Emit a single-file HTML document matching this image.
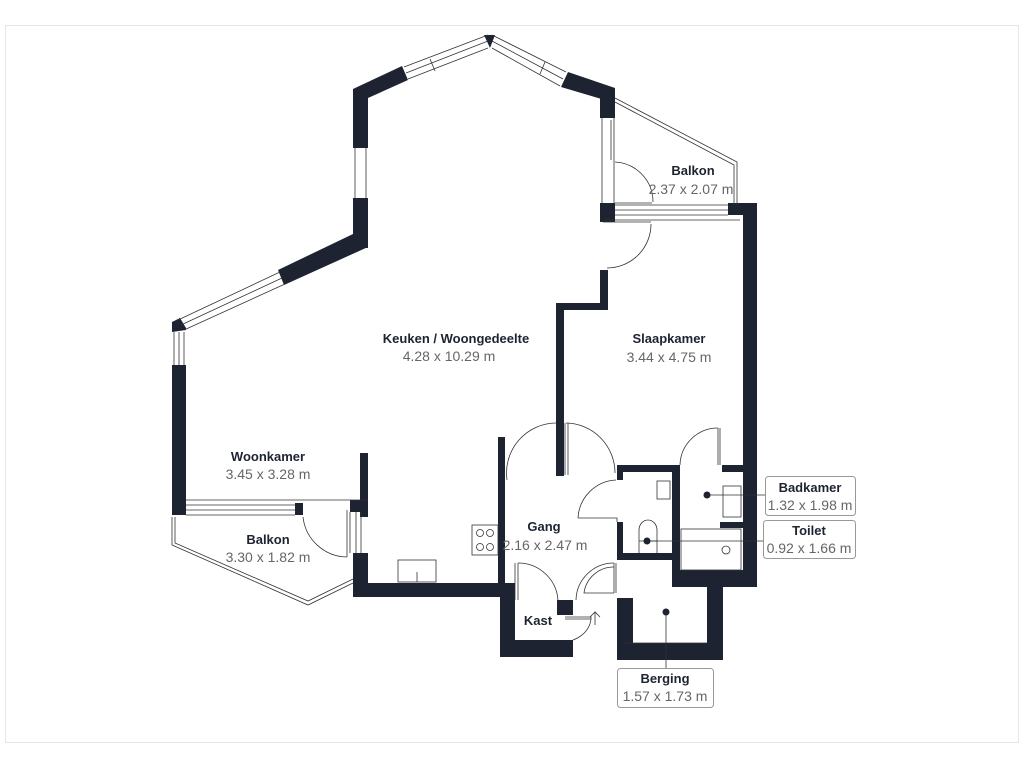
<!DOCTYPE html>
<html><head><meta charset="utf-8"><style>
html,body{margin:0;padding:0;background:#fff;}
svg{display:block;}
text{font-family:"Liberation Sans",sans-serif;font-size:13px;}
.b{font-weight:bold;fill:#1d2330;}
.d{fill:#666;font-size:14px;}
</style></head><body>
<svg width="1024" height="768" viewBox="0 0 1024 768" xmlns="http://www.w3.org/2000/svg">
<rect x="5.5" y="25.5" width="1013" height="717" fill="none" stroke="#e6e6e6"/>
<g fill="#1d2330">
<rect x="172" y="365" width="14" height="150"/>
<polygon points="172,322 180,318 186,328 186,330 172,332"/>
<polygon points="278,270 353,234 368,247 284,285"/>
<rect x="353" y="89" width="15" height="59"/>
<rect x="353" y="198" width="15" height="50"/>
<polygon points="353,89 402,66 408,80 368,98"/>
<polygon points="484,35 495,35 490,48"/>
<polygon points="568,72 615,88 615,103 561,87"/>
<rect x="600" y="88" width="15" height="30"/>
<rect x="600" y="203" width="15" height="19"/>
<rect x="728" y="203" width="29" height="12"/>
<rect x="743" y="203" width="14" height="384"/>
<rect x="600" y="270" width="8" height="40"/>
<rect x="556" y="303" width="52" height="7"/>
<rect x="556" y="303" width="8" height="173"/>
<rect x="498" y="437" width="7" height="160"/>
<rect x="360" y="453" width="8" height="64"/>
<rect x="353" y="553" width="15" height="44"/>
<rect x="353" y="583" width="152" height="14"/>
<rect x="500" y="583" width="15" height="74"/>
<rect x="500" y="640" width="73" height="17"/>
<rect x="557" y="600" width="16" height="15"/>
<rect x="617" y="465" width="63" height="7"/>
<rect x="617" y="465" width="6" height="15"/>
<rect x="617" y="522" width="6" height="38"/>
<rect x="617" y="553" width="63" height="7"/>
<rect x="672" y="465" width="8" height="112"/>
<rect x="672" y="570" width="85" height="17"/>
<rect x="722" y="465" width="21" height="7"/>
<rect x="720" y="522" width="23" height="6"/>
<rect x="617" y="598" width="16" height="62"/>
<rect x="617" y="643" width="106" height="17"/>
<rect x="707" y="577" width="16" height="83"/>
<rect x="295" y="503" width="8" height="12"/>
<rect x="350" y="500" width="18" height="12"/>
</g>
<g fill="none" stroke="#333" stroke-width="0.8">
<line x1="174" y1="332" x2="174" y2="365"/><line x1="184" y1="332" x2="184" y2="365"/><line x1="179" y1="332" x2="179" y2="365"/>
<line x1="178" y1="320" x2="280" y2="272"/><line x1="184" y1="330" x2="285" y2="284"/><line x1="181" y1="325" x2="282" y2="278"/>
<line x1="355" y1="148" x2="355" y2="198"/><line x1="366" y1="148" x2="366" y2="198"/>
<line x1="404" y1="67" x2="488" y2="35"/><line x1="408" y1="79" x2="488" y2="48"/><line x1="406" y1="73" x2="488" y2="41"/>
<line x1="492" y1="35" x2="566" y2="72"/><line x1="492" y1="48" x2="560" y2="86"/><line x1="492" y1="41" x2="563" y2="79"/>
<line x1="430" y1="59" x2="435" y2="71"/><line x1="545" y1="62" x2="540" y2="74"/>
<line x1="602" y1="118" x2="602" y2="203"/><line x1="614" y1="118" x2="614" y2="203"/>
<line x1="611" y1="120" x2="611" y2="160"/>
<polyline points="615,98 737,162 737,205"/><polyline points="615,102 734,165 734,205"/>
<line x1="615" y1="205" x2="728" y2="205"/><line x1="615" y1="210" x2="728" y2="210"/><line x1="615" y1="215" x2="728" y2="215"/>
<line x1="605" y1="220" x2="740" y2="220"/>
<line x1="615" y1="203" x2="652" y2="203"/>
<path d="M615,162 A40,40 0 0 1 653,202"/>
<line x1="603" y1="222" x2="651" y2="222"/>
<path d="M651,224 A44,44 0 0 1 607,268"/>
<line x1="186" y1="500" x2="368" y2="500"/>
<line x1="186" y1="505" x2="295" y2="505"/><line x1="186" y1="510" x2="295" y2="510"/><line x1="186" y1="515" x2="295" y2="515"/>
<polyline points="172,517 172,545 308,605 353,583"/><polyline points="175,517 175,543 308,601 353,579"/>
<line x1="350" y1="512" x2="350" y2="553"/><line x1="356" y1="512" x2="356" y2="553"/><line x1="361" y1="512" x2="361" y2="553"/>
<line x1="347" y1="510" x2="347" y2="557"/>
<path d="M303,517 A45,45 0 0 0 347,557"/>
<rect x="398" y="560" width="38" height="22"/>
<line x1="417" y1="572" x2="417" y2="582"/>
<rect x="472" y="525" width="26" height="30"/>
<circle cx="480" cy="533" r="3.5"/><circle cx="490" cy="533" r="3.5"/>
<circle cx="480" cy="547" r="3.5"/><circle cx="490" cy="547" r="3.5"/>
<path d="M507,480 A50,50 0 0 1 556,423"/>
<path d="M566,423 A50,50 0 0 1 615,473"/>
<line x1="565" y1="423" x2="565" y2="475"/><line x1="568" y1="423" x2="568" y2="475"/>
<path d="M578,518 A40,40 0 0 1 616,480"/>
<polyline points="578,518 617,518 617,522"/>
<rect x="657" y="481" width="13" height="18"/>
<path d="M639,553 L639,530 A9,10 0 0 1 657,530 L657,553"/>
<line x1="639" y1="541" x2="657" y2="541"/>
<path d="M680,465 A38,38 0 0 1 718,428"/>
<line x1="718" y1="428" x2="718" y2="465"/><line x1="720" y1="428" x2="720" y2="465"/>
<rect x="723" y="486" width="18" height="31"/>
<rect x="681" y="529" width="60" height="41"/>
<circle cx="726" cy="550" r="4"/>
<line x1="515" y1="563" x2="515" y2="600"/><line x1="518" y1="563" x2="518" y2="600"/>
<path d="M518,563 A40,40 0 0 1 558,600"/>
<polyline points="565,617 591,617 591,619 565,619"/>
<path d="M591,619 A30,25 0 0 1 573,640"/>
<path d="M590,617 L595,612 L600,617 M595,612 L595,625"/>
<line x1="614" y1="563" x2="614" y2="593"/><line x1="616" y1="563" x2="616" y2="593"/>
<path d="M614,563 A38,38 0 0 0 576,600"/>
<path d="M614,567 A30,30 0 0 0 584,593 L614,593"/>
<line x1="707" y1="495" x2="765" y2="495"/>
<line x1="647" y1="541" x2="763" y2="541"/>
<line x1="666" y1="612" x2="666" y2="668"/>
<line x1="625" y1="643" x2="707" y2="643"/>
</g>
<g fill="#1d2330">
<circle cx="707" cy="495" r="3.5"/><circle cx="647" cy="541" r="3.5"/><circle cx="666" cy="612" r="3.5"/>
</g>
<g fill="#fff" stroke="#999" stroke-width="1">
<rect x="765.5" y="476.5" width="90" height="39" rx="3"/>
<rect x="763.5" y="520.5" width="92" height="38" rx="3"/>
<rect x="617.5" y="668.5" width="96" height="39" rx="3"/>
</g>
<g text-anchor="middle">
<text x="456" y="343" class="b">Keuken / Woongedeelte</text>
<text x="449" y="361" class="d">4.28 x 10.29 m</text>
<text x="669" y="343" class="b">Slaapkamer</text>
<text x="669" y="362" class="d">3.44 x 4.75 m</text>
<text x="693" y="175" class="b">Balkon</text>
<text x="691" y="194" class="d">2.37 x 2.07 m</text>
<text x="268" y="461" class="b">Woonkamer</text>
<text x="268" y="479" class="d">3.45 x 3.28 m</text>
<text x="268" y="544" class="b">Balkon</text>
<text x="268" y="562" class="d">3.30 x 1.82 m</text>
<text x="544" y="531" class="b">Gang</text>
<text x="545" y="550" class="d">2.16 x 2.47 m</text>
<text x="538" y="625" class="b">Kast</text>
<text x="810" y="492" class="b">Badkamer</text>
<text x="810" y="510" class="d">1.32 x 1.98 m</text>
<text x="809" y="535" class="b">Toilet</text>
<text x="809" y="553" class="d">0.92 x 1.66 m</text>
<text x="665" y="683" class="b">Berging</text>
<text x="665" y="701" class="d">1.57 x 1.73 m</text>
</g>
</svg>
</body></html>
